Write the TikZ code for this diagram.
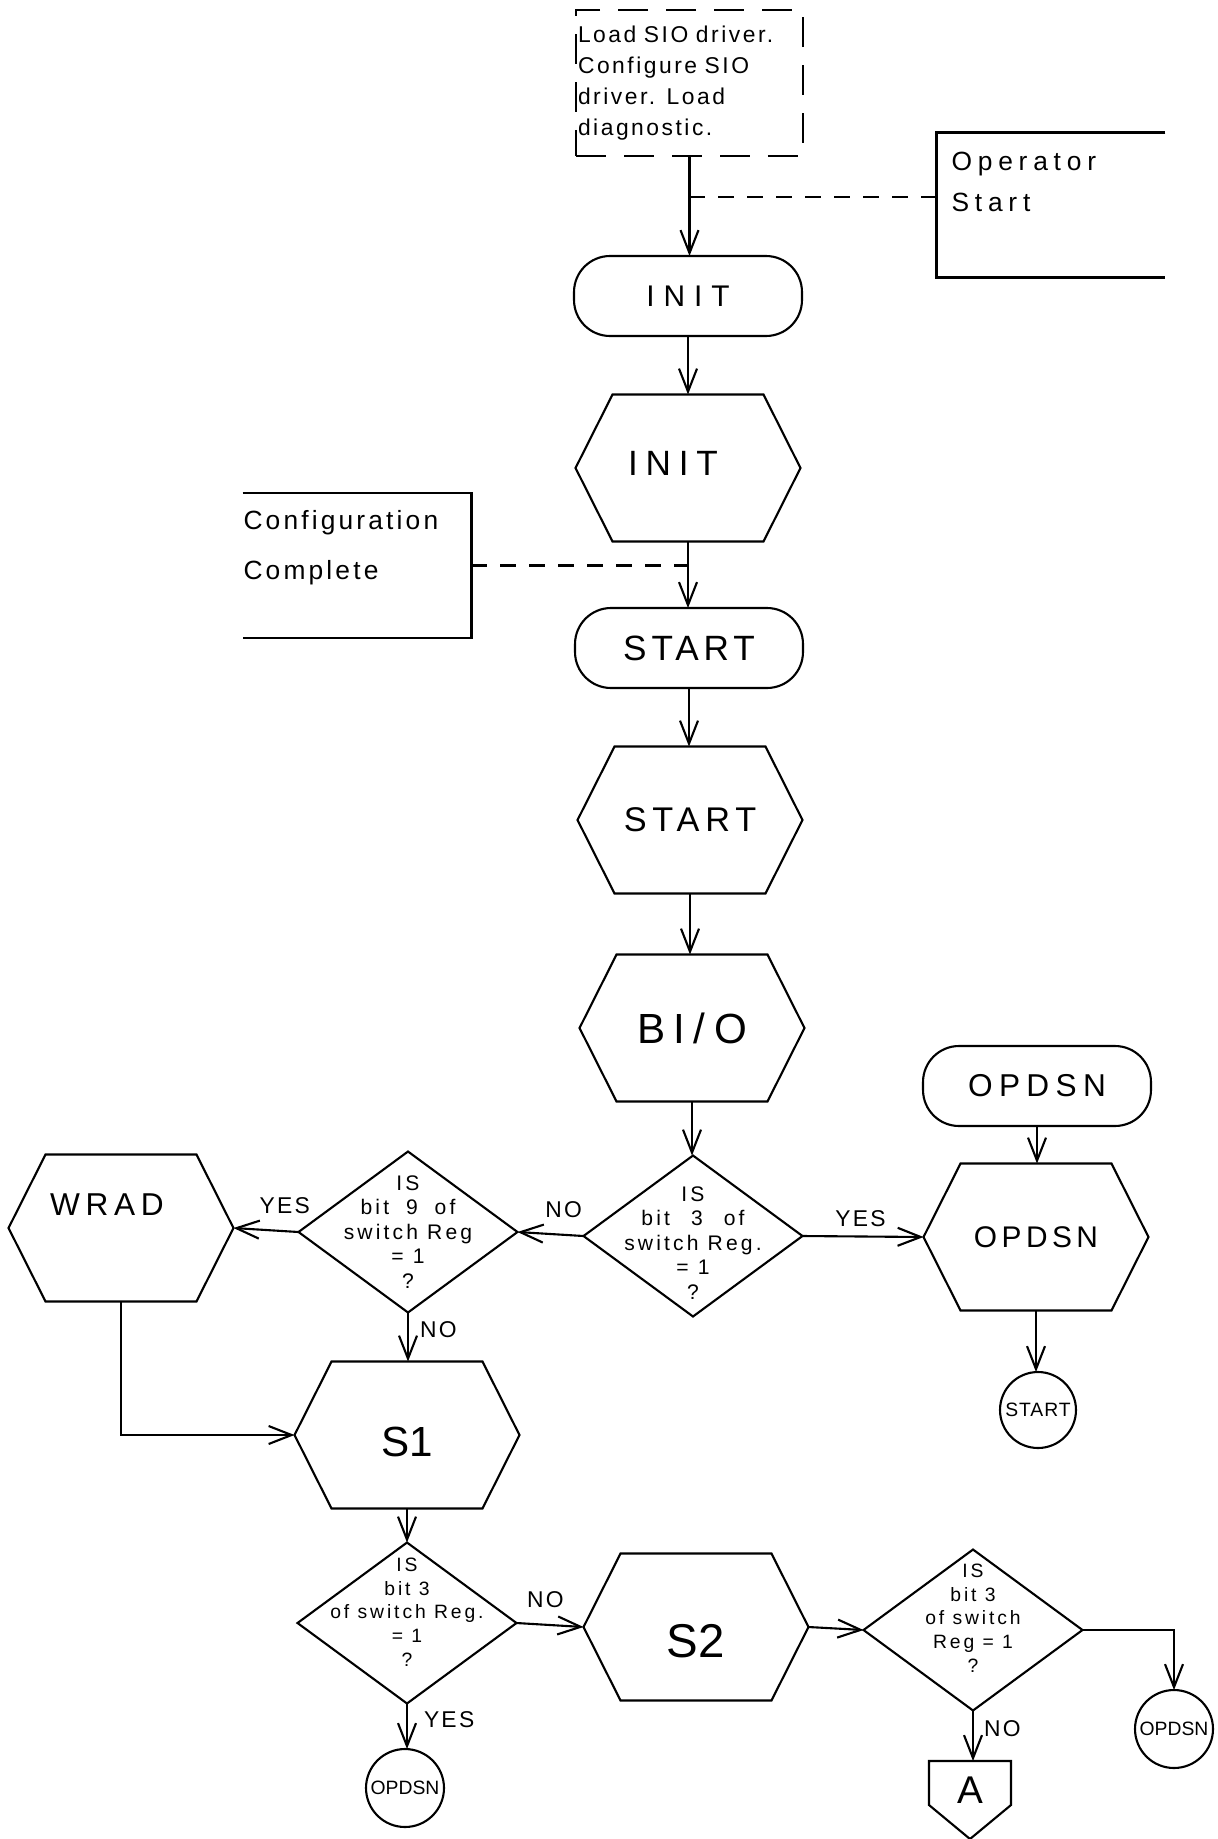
\documentclass[tikz,border=0pt]{standalone}
\usepackage{fontspec}
\setmainfont{Liberation Sans}
\usetikzlibrary{shapes.geometric,arrows.meta}
\newcommand{\fLoad}{\fontsize{13}{17.5}\selectfont\addfontfeature{LetterSpace=11}}
\newcommand{\fOp}{\fontsize{15}{23}\selectfont\addfontfeature{LetterSpace=22}}
\newcommand{\fConf}{\fontsize{15}{28.5}\selectfont\addfontfeature{LetterSpace=12}}
\newcommand{\fInitA}{\fontsize{17}{20}\selectfont\addfontfeature{LetterSpace=30}}
\newcommand{\fInitB}{\fontsize{20}{24}\selectfont\addfontfeature{LetterSpace=22}}
\newcommand{\fStartA}{\fontsize{20}{24}\selectfont\addfontfeature{LetterSpace=14}}
\newcommand{\fStartB}{\fontsize{19.5}{24}\selectfont\addfontfeature{LetterSpace=17}}
\newcommand{\fBio}{\fontsize{24}{28}\selectfont\addfontfeature{LetterSpace=20}}
\newcommand{\fOpA}{\fontsize{18}{22}\selectfont\addfontfeature{LetterSpace=20}}
\newcommand{\fOpB}{\fontsize{17}{20}\selectfont\addfontfeature{LetterSpace=15}}
\newcommand{\fWrad}{\fontsize{18}{21}\selectfont\addfontfeature{LetterSpace=18}}
\newcommand{\fSone}{\fontsize{24}{28}\selectfont}
\newcommand{\fStwo}{\fontsize{27}{32}\selectfont}
\newcommand{\fAconn}{\fontsize{22}{26}\selectfont}
\newcommand{\fSmallC}{\fontsize{11}{13}\selectfont\addfontfeature{LetterSpace=5}}
\newcommand{\fSmallO}{\fontsize{11}{13}\selectfont}
\newcommand{\fLbl}{\fontsize{13}{15}\selectfont\addfontfeature{LetterSpace=10}}
\newcommand{\fDia}{\fontsize{12}{14}\selectfont\addfontfeature{LetterSpace=15}}
\newcommand{\fDiaB}{\fontsize{11}{13.5}\selectfont\addfontfeature{LetterSpace=15}}
\begin{document}
\begin{tikzpicture}[x=0.02cm,y=-0.02cm,line width=1.2pt,
  every node/.style={inner sep=0pt,outer sep=0pt},
  arr/.style={-{Straight Barb[length=4.6mm,width=3.6mm]}},
  dline/.style={dash pattern=on 3.2mm off 2.6mm},
  term/.style={draw,rectangle,rounded corners=0.72cm,minimum width=4.56cm,minimum height=1.6cm},
  hexbox/.style={rectangle,minimum width=4.5cm,minimum height=2.94cm},
  dia/.style={draw,diamond,minimum width=4.38cm,minimum height=3.22cm},
  conn/.style={draw,circle,minimum size=1.56cm},
  brk/.style={rectangle,minimum width=4.58cm,minimum height=2.9cm},
  lbl/.style={font=\fLbl}]
\useasboundingbox (0,0) rectangle (1217,1839);

% nodes
\node[draw,dash pattern=on 6mm off 3.6mm,minimum width=4.54cm,minimum height=2.92cm,
      text width=4.46cm,align=left,font=\fLoad] (loadbox) at (689.5,83)
      {Load SIO driver.\\Configure SIO\\driver. Load\\diagnostic.};
\node[brk,label={[name=optext,anchor=north west,xshift=0.3cm,yshift=-0.4cm,align=left,font=\fOp]north west:{Operator\\Start}}] (opbox) at (1051,205) {};
\node[term,font=\fInitA] (init1) at (688,296) {INIT};
\node[hexbox,label={[name=init2t,font=\fInitB,xshift=-0.3cm,yshift=0.1cm]center:INIT}] (init2) at (688,468) {};
\node[brk,label={[name=conftext,anchor=north west,xshift=0.02cm,yshift=-0.34cm,align=left,font=\fConf]north west:{Configuration\\Complete}}] (confbox) at (357,565.5) {};
\node[term,font=\fStartA] (start1) at (689,648) {START};
\node[hexbox,font=\fStartB] (start2) at (690,820) {START};
\node[hexbox,font=\fBio] (bio) at (692,1028) {BI/O};
\node[dia,label={[name=d1t,font=\fDia,align=center,yshift=-0.14cm]center:{IS\\bit\hspace{1em}3\hspace{1em}of\\switch Reg.\\= 1\\?}}] (d1) at (693,1236) {};
\node[term,font=\fOpA] (opdsn1) at (1037,1086) {OPDSN};
\node[hexbox,font=\fOpB] (opdsn2) at (1036,1237) {OPDSN};
\node[conn,minimum size=1.52cm,font=\fSmallC] (startc) at (1038,1410) {START};
\node[dia,label={[name=d2t,font=\fDia,align=center]center:{IS\\bit\hspace{0.8em}9\hspace{0.8em}of\\switch Reg\\= 1\\?}}] (d2) at (408,1232) {};
\node[hexbox,label={[name=wradt,font=\fWrad,xshift=-0.28cm,yshift=0.46cm]center:WRAD}] (wrad) at (121,1228) {};
\node[hexbox,label={[name=s1t,font=\fSone,yshift=-0.14cm]center:S1}] (s1) at (407,1435) {};
\node[dia,label={[name=d3t,font=\fDiaB,align=center,yshift=0.22cm]center:{IS\\bit 3\\of switch Reg.\\= 1\\?}}] (d3) at (407,1623) {};
\node[conn,font=\fSmallO] (opc1) at (405,1788) {OPDSN};
\node[hexbox,label={[name=s2t,font=\fStwo,yshift=-0.28cm]center:S2}] (s2) at (696,1627) {};
\node[dia,label={[name=d4t,font=\fDiaB,align=center,yshift=0.24cm]center:{IS\\bit 3\\of switch\\Reg = 1\\?}}] (d4) at (973,1630) {};
\node[conn,font=\fSmallO] (opc2) at (1174,1729) {OPDSN};
\node[rectangle,minimum width=1.64cm,minimum height=1.56cm,label={[name=at,font=\fAconn,yshift=0.2cm]center:A}] (aoff) at (970,1800) {};

% hexagon outlines
\foreach \n in {init2,start2,bio,opdsn2,wrad,s1,s2}{
  \draw ([xshift=0.74cm]\n.north west) -- ([xshift=-0.74cm]\n.north east) -- (\n.east)
     -- ([xshift=-0.74cm]\n.south east) -- ([xshift=0.74cm]\n.south west) -- (\n.west) -- cycle;
}
% off-page connector
\draw (aoff.north west) -- (aoff.north east) -- ([yshift=-0.88cm]aoff.north east) -- (aoff.south)
   -- ([yshift=-0.88cm]aoff.north west) -- cycle;
% bracket annotations
\draw (opbox.north east) -- (opbox.north west) -- (opbox.south west) -- (opbox.south east);
\draw (confbox.north west) -- (confbox.north east) -- (confbox.south east) -- (confbox.south west);

% connectors
\draw[arr] (loadbox.south) -- (loadbox.south |- init1.north);
\draw[dline] ([yshift=0.16cm]opbox.west) -- ([yshift=0.16cm]opbox.west -| loadbox.south);
\draw[arr] (init1.south) -- (init1.south |- init2.north);
\draw[dline] (confbox.east) -- (confbox.east -| init2.south);
\draw[arr] (init2.south) -- (init2.south |- start1.north);
\draw[arr] (start1.south) -- (start1.south |- start2.north);
\draw[arr] (start2.south) -- (start2.south |- bio.north);
\draw[arr] (bio.south) -- (bio.south |- d1.north);
\draw[arr] (d1.east) -- node[pos=0.48,above=0.2cm,lbl]{YES} (opdsn2.west);
\draw[arr] (opdsn1.south) -- (opdsn1.south |- opdsn2.north);
\draw[arr] (opdsn2.south) -- (opdsn2.south |- startc.north);
\draw[arr] (d1.west) -- node[pos=0.3,above=0.34cm,lbl]{NO} (d2.east);
\draw[arr] (d2.west) -- node[pos=0.21,above=0.34cm,lbl]{YES} (wrad.east);
\draw[arr] (d2.south) -- node[pos=0.35,right=0.24cm,lbl]{NO} (d2.south |- s1.north);
\draw[arr] (wrad.south) |- (s1.west);
\draw[arr] (s1.south) -- (s1.south |- d3.north);
\draw[arr] (d3.east) -- node[pos=0.43,above=0.34cm,lbl]{NO} (s2.west);
\draw[arr] (d3.south) -- node[pos=0.35,right=0.34cm,lbl]{YES} (d3.south |- opc1.north);
\draw[arr] (s2.east) -- (d4.west);
\draw[arr] (d4.east) -| (opc2.north);
\draw[arr] (d4.south) -- node[pos=0.35,right=0.22cm,lbl]{NO} (d4.south |- aoff.north);
\end{tikzpicture}
\end{document}
